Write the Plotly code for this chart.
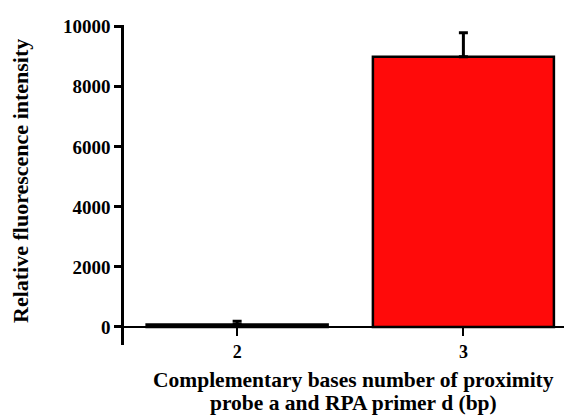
import plotly.graph_objects as go

categories = [2, 3]
values = [80, 9000]
errors_up = [110, 800]
bar_colors = ["#ff0a0a", "#ff0a0a"]
y_tick_vals = [0, 2000, 4000, 6000, 8000, 10000]
x_title_lines = ["Complementary bases number of proximity", "probe a and RPA primer d (bp)"]
y_title = "Relative fluorescence intensity"

font_family = "Liberation Serif"

fig = go.Figure()
fig.add_trace(go.Bar(
    x=categories,
    y=values,
    width=0.8,
    marker=dict(color=bar_colors, line=dict(color="black", width=2.5)),
    error_y=dict(type="data", symmetric=False, array=errors_up,
                 arrayminus=[0, 0], color="black", thickness=3, width=4.5),
))

y_min, y_max = -600, 10060
fig.update_layout(
    width=572, height=418,
    margin=dict(l=116, r=8, t=12, b=81),
    plot_bgcolor="white", paper_bgcolor="white",
    showlegend=False,
    font=dict(family=font_family, size=19, color="black"),
    xaxis=dict(
        range=[1.5, 3.48],
        tickvals=categories,
        ticktext=[f"<b>{c}</b>" for c in categories],
        showline=True, linecolor="black", linewidth=2,
        ticks="outside", ticklen=8, tickwidth=2, tickcolor="black",
        anchor="free", position=(0 - y_min) / (y_max - y_min),
        showgrid=False, zeroline=False,
        tickfont=dict(size=18),
    ),
    yaxis=dict(
        range=[y_min, y_max],
        tickvals=y_tick_vals,
        ticktext=[f"<b>{v}</b>" for v in y_tick_vals],
        showline=True, linecolor="black", linewidth=2.5,
        ticks="outside", ticklen=7, tickwidth=2.5, tickcolor="black",
        showgrid=False, zeroline=False,
        tickfont=dict(size=19),
    ),
)

for i, line in enumerate(x_title_lines):
    fig.add_annotation(
        text=f"<b>{line}</b>", xref="paper", yref="paper", x=0.5, y=0,
        xanchor="center", yanchor="middle", xshift=5, yshift=-35 - 23 * i,
        showarrow=False, font=dict(size=21.5),
    )

fig.add_annotation(
    text=f"<b>{y_title}</b>", xref="paper", yref="paper", x=0, y=0.5,
    xanchor="center", yanchor="middle", xshift=-104, yshift=4,
    textangle=-90, showarrow=False, font=dict(size=22),
)

fig.write_html("out.html")
